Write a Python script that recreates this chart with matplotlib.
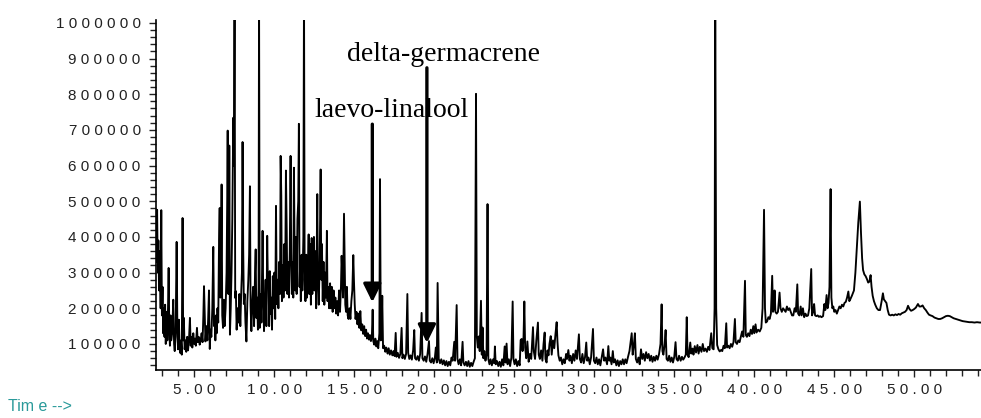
import matplotlib.pyplot as plt
from matplotlib.ticker import MultipleLocator, FuncFormatter

# chromatogram vertices: (time in min, abundance in thousands)
early = [
    (2.62, 330), (2.68, 476), (2.72, 300), (2.76, 390), (2.80, 250), (2.85, 360),
    (2.90, 200), (2.94, 475), (2.98, 180), (3.02, 260), (3.06, 130), (3.10, 200),
    (3.14, 120), (3.18, 210), (3.22, 100), (3.27, 190), (3.32, 110), (3.36, 200),
    (3.40, 313), (3.44, 140), (3.48, 95), (3.52, 180), (3.56, 110), (3.62, 130),
    (3.69, 224), (3.74, 100), (3.78, 80), (3.84, 140), (3.90, 386), (3.95, 120),
    (3.99, 85), (4.04, 168), (4.08, 95), (4.12, 75), (4.17, 110), (4.22, 70),
    (4.27, 453), (4.31, 110), (4.35, 173), (4.40, 85), (4.45, 110), (4.50, 78),
    (4.56, 120), (4.61, 82), (4.67, 110), (4.73, 173), (4.78, 95), (4.83, 120),
    (4.88, 90), (4.94, 130), (5.00, 100), (5.05, 115), (5.10, 95), (5.17, 145),
    (5.22, 105), (5.28, 120), (5.34, 98), (5.40, 110), (5.46, 130), (5.52, 105),
    (5.57, 180), (5.61, 262), (5.66, 173), (5.70, 107), (5.76, 150), (5.82, 110),
    (5.87, 170), (5.92, 250), (5.97, 86), (6.02, 140), (6.07, 120), (6.13, 200),
    (6.19, 372), (6.24, 150), (6.28, 176), (6.32, 110), (6.36, 180), (6.40, 130),
    (6.45, 200), (6.50, 160), (6.55, 390), (6.59, 481), (6.63, 230), (6.67, 300),
    (6.71, 547), (6.75, 180), (6.80, 145), (6.85, 224), (6.90, 150), (6.96, 200),
    (7.02, 300), (7.06, 500), (7.09, 698), (7.13, 240), (7.17, 350), (7.19, 656),
    (7.23, 126), (7.28, 200), (7.33, 300), (7.38, 450), (7.44, 734), (7.48, 600),
    (7.52, 1100), (7.56, 229), (7.60, 248), (7.65, 140), (7.70, 200), (7.76, 160),
    (7.82, 240), (7.88, 150), (7.94, 250), (7.98, 300), (8.02, 666), (8.06, 368),
    (8.10, 212), (8.15, 240), (8.20, 160), (8.26, 107), (8.32, 220), (8.38, 280),
    (8.43, 350), (8.48, 542), (8.52, 207), (8.57, 136), (8.62, 210), (8.68, 260),
    (8.74, 150), (8.80, 300), (8.84, 365), (8.88, 173), (8.93, 230), (8.98, 140),
    (9.02, 260), (9.05, 1100), (9.09, 145), (9.14, 240), (9.20, 160), (9.27, 417),
    (9.31, 248), (9.36, 136), (9.41, 200), (9.46, 280), (9.51, 150), (9.56, 403),
    (9.60, 276), (9.64, 285), (9.68, 150), (9.72, 304), (9.76, 184), (9.81, 230),
    (9.86, 140), (9.91, 290), (9.96, 200), (10.01, 300), (10.06, 170), (10.11, 487),
    (10.16, 212), (10.21, 280), (10.26, 200), (10.31, 330), (10.36, 240), (10.40, 627),
    (10.44, 515), (10.48, 220), (10.53, 320), (10.58, 230), (10.63, 380), (10.68, 250),
    (10.73, 586), (10.78, 417), (10.82, 240), (10.87, 330), (10.92, 230), (10.97, 357),
    (11.02, 627), (11.06, 357), (11.10, 240), (11.15, 330), (11.19, 230), (11.23, 594),
    (11.27, 380), (11.31, 250), (11.36, 400), (11.40, 240), (11.45, 450), (11.50, 500),
    (11.54, 717), (11.58, 260), (11.62, 330), (11.66, 220), (11.71, 350), (11.76, 250),
    (11.82, 400), (11.86, 1100), (11.90, 280), (11.95, 220), (12.00, 350), (12.05, 230),
    (12.10, 300), (12.15, 407), (12.19, 240), (12.24, 380), (12.29, 210), (12.34, 397),
    (12.38, 240), (12.43, 330), (12.48, 400), (12.52, 250), (12.57, 360), (12.62, 200),
    (12.69, 520), (12.73, 280), (12.78, 210), (12.84, 330), (12.90, 589), (12.94, 280),
    (12.98, 380), (13.03, 220), (13.08, 330), (13.13, 210), (13.18, 300), (13.23, 230),
    (13.29, 417), (13.33, 220), (13.38, 260), (13.43, 200), (13.49, 270), (13.54, 200),
    (13.60, 260), (13.65, 190), (13.71, 250), (13.76, 200), (13.82, 230), (13.87, 185),
    (13.93, 220), (13.99, 180), (14.05, 250), (14.11, 190), (14.17, 260), (14.21, 347),
    (14.25, 300), (14.30, 230), (14.36, 465), (14.40, 330), (14.44, 210), (14.49, 190),
    (14.54, 260), (14.59, 180), (14.64, 170), (14.70, 200), (14.76, 170), (14.82, 220),
    (14.88, 250), (14.94, 349), (14.98, 280), (15.03, 210), (15.08, 170), (15.14, 190),
]
middle = [
    (15.20, 155), (15.26, 185), (15.32, 145), (15.38, 192), (15.44, 138), (15.50, 155),
    (15.56, 128), (15.62, 150), (15.68, 122), (15.74, 140), (15.80, 115), (15.86, 130),
    (15.92, 112), (15.98, 125), (16.04, 108), (16.10, 120), (16.15, 196), (16.19, 108),
    (16.25, 98), (16.32, 115), (16.38, 93), (16.44, 108), (16.50, 88), (16.57, 130),
    (16.61, 562), (16.66, 110), (16.71, 130), (16.75, 235), (16.80, 88), (16.87, 95),
    (16.94, 78), (17.00, 90), (17.08, 73), (17.15, 88), (17.22, 70), (17.30, 82),
    (17.38, 68), (17.45, 80), (17.52, 66), (17.59, 131), (17.64, 64), (17.72, 75),
    (17.80, 61), (17.88, 72), (17.96, 145), (18.01, 60), (18.08, 70), (18.16, 58),
    (18.24, 72), (18.32, 240), (18.37, 75), (18.44, 58), (18.52, 68), (18.60, 56),
    (18.68, 82), (18.75, 139), (18.80, 60), (18.88, 56), (18.96, 66), (19.04, 53),
    (19.12, 72), (19.21, 187), (19.26, 60), (19.34, 53), (19.42, 65), (19.50, 50),
    (19.58, 72), (19.67, 108), (19.72, 53), (19.80, 48), (19.88, 60), (19.96, 46),
    (20.04, 62), (20.10, 90), (20.16, 48), (20.21, 271), (20.24, 181), (20.28, 58),
    (20.36, 46), (20.44, 57), (20.52, 43), (20.60, 54), (20.68, 40), (20.76, 52),
    (20.84, 38), (20.92, 50), (21.00, 40), (21.08, 62), (21.15, 53), (21.25, 106),
    (21.30, 53), (21.40, 209), (21.45, 58), (21.52, 43), (21.60, 57), (21.68, 40),
    (21.77, 106), (21.82, 48), (21.90, 40), (21.98, 50), (22.06, 38), (22.14, 52),
    (22.22, 36), (22.30, 47), (22.38, 38), (22.46, 50), (22.54, 60), (22.61, 801),
    (22.66, 121), (22.72, 90), (22.78, 121), (22.84, 80), (22.92, 221), (22.97, 70),
    (23.02, 146), (23.07, 60), (23.13, 80), (23.20, 53), (23.27, 70), (23.33, 492),
    (23.38, 58), (23.45, 43), (23.52, 57), (23.60, 40), (23.68, 57), (23.75, 46),
    (23.79, 93), (23.84, 43), (23.92, 52), (24.00, 38), (24.08, 50), (24.16, 36),
    (24.24, 57), (24.32, 40), (24.40, 93), (24.45, 48), (24.52, 101), (24.58, 43),
    (24.66, 57), (24.74, 38), (24.82, 62), (24.90, 219), (24.95, 58), (25.02, 43),
    (25.10, 57), (25.18, 38), (25.26, 52), (25.34, 40), (25.40, 111), (25.46, 114),
    (25.52, 80), (25.58, 120), (25.63, 219), (25.68, 90), (25.75, 60), (25.82, 107),
    (25.90, 50), (25.98, 72), (26.06, 58), (26.17, 147), (26.22, 80), (26.30, 58),
    (26.38, 110), (26.48, 160), (26.53, 70), (26.60, 58), (26.68, 82), (26.76, 53),
    (26.83, 100), (26.90, 132), (26.95, 58), (27.02, 48), (27.08, 82), (27.14, 68),
    (27.20, 100), (27.28, 122), (27.34, 70), (27.42, 110), (27.50, 88), (27.58, 130),
    (27.65, 161), (27.70, 107), (27.76, 68), (27.84, 53), (27.92, 62), (28.00, 43),
    (28.08, 57), (28.16, 46), (28.24, 72), (28.30, 58), (28.38, 83), (28.45, 53),
    (28.52, 67), (28.60, 46), (28.68, 72), (28.76, 53), (28.84, 82), (28.92, 58),
    (29.04, 127), (29.10, 58), (29.18, 48), (29.26, 72), (29.34, 46), (29.42, 62),
    (29.50, 104), (29.56, 53), (29.64, 62), (29.72, 43), (29.80, 62), (29.92, 142),
    (29.98, 53), (30.06, 46), (30.14, 62), (30.22, 43), (30.30, 57), (30.38, 40),
    (30.46, 62), (30.55, 85), (30.62, 53), (30.70, 62), (30.80, 43), (30.88, 94),
    (30.94, 53), (31.00, 62), (31.08, 43), (31.16, 80), (31.22, 48), (31.30, 57),
    (31.38, 40), (31.46, 54), (31.54, 38), (31.62, 52), (31.70, 43), (31.78, 57),
    (31.86, 43), (31.94, 57), (32.02, 46), (32.10, 62), (32.20, 80), (32.34, 130),
    (32.40, 70), (32.47, 95), (32.54, 130), (32.60, 58), (32.68, 48), (32.76, 62),
    (32.84, 43), (32.92, 85), (33.00, 58), (33.08, 72), (33.16, 53), (33.24, 77),
    (33.32, 60), (33.40, 72), (33.48, 53), (33.56, 67), (33.64, 50), (33.72, 64),
    (33.80, 53), (33.88, 67), (33.96, 56), (34.05, 72), (34.14, 100), (34.21, 211),
    (34.26, 80), (34.32, 70), (34.40, 100), (34.46, 139), (34.52, 58), (34.60, 53),
    (34.68, 67), (34.76, 50), (34.84, 62), (34.92, 48), (35.00, 64), (35.08, 105),
    (35.14, 58), (35.22, 53), (35.30, 67), (35.40, 53), (35.48, 64), (35.56, 56),
    (35.64, 62), (35.72, 70), (35.78, 175), (35.83, 70), (35.90, 63), (36.00, 104),
    (36.06, 73), (36.14, 87), (36.20, 70), (36.28, 94), (36.36, 76), (36.45, 97),
    (36.52, 73), (36.60, 92), (36.70, 78), (36.78, 100), (36.86, 80), (36.95, 87),
    (37.04, 78), (37.12, 92), (37.20, 83), (37.31, 130), (37.38, 88), (37.46, 85),
]
late = [
    (37.52, 200), (37.56, 1100), (37.62, 200), (37.68, 97), (37.76, 85), (37.84, 79),
    (37.92, 83), (38.00, 80), (38.08, 95), (38.16, 88), (38.25, 158), (38.30, 90),
    (38.38, 95), (38.46, 88), (38.54, 100), (38.62, 92), (38.70, 105), (38.79, 170),
    (38.84, 105), (38.92, 100), (39.00, 110), (39.08, 105), (39.16, 120), (39.24, 135),
    (39.32, 120), (39.42, 277), (39.47, 125), (39.54, 120), (39.62, 130), (39.70, 122),
    (39.78, 140), (39.86, 128), (39.94, 150), (40.00, 130), (40.08, 155), (40.14, 132),
    (40.24, 140), (40.34, 135), (40.44, 145), (40.52, 200), (40.61, 476), (40.67, 200),
    (40.72, 160), (40.80, 163), (40.88, 175), (40.96, 170), (41.04, 185), (41.12, 291),
    (41.17, 190), (41.22, 200), (41.27, 250), (41.32, 190), (41.40, 185), (41.48, 190),
    (41.58, 244), (41.64, 200), (41.72, 190), (41.80, 200), (41.88, 195), (41.96, 190),
    (42.04, 205), (42.12, 195), (42.20, 200), (42.28, 190), (42.36, 180), (42.44, 180),
    (42.52, 200), (42.60, 190), (42.69, 267), (42.74, 185), (42.82, 180), (42.90, 205),
    (42.96, 180), (43.04, 200), (43.12, 175), (43.20, 185), (43.28, 178), (43.36, 180),
    (43.44, 200), (43.56, 310), (43.61, 180), (43.68, 190), (43.74, 212), (43.80, 180),
    (43.88, 178), (43.96, 180), (44.04, 176), (44.12, 178), (44.20, 175), (44.30, 178),
    (44.38, 212), (44.44, 195), (44.52, 237), (44.58, 200), (44.64, 215), (44.70, 260),
    (44.77, 534), (44.82, 230), (44.88, 200), (44.94, 205), (45.00, 190), (45.08, 195),
    (45.16, 185), (45.24, 195), (45.32, 205), (45.40, 200), (45.48, 210), (45.56, 205),
    (45.64, 215), (45.72, 218), (45.80, 230), (45.88, 247), (45.94, 220), (46.00, 225),
    (46.10, 235), (46.23, 250), (46.32, 300), (46.40, 364), (46.50, 440), (46.60, 499),
    (46.67, 411), (46.74, 340), (46.80, 307), (46.88, 295), (46.96, 290), (47.04, 282),
    (47.12, 272), (47.20, 275), (47.27, 293), (47.33, 260), (47.40, 235), (47.48, 220),
    (47.56, 210), (47.66, 200), (47.76, 195), (47.86, 195), (47.96, 220), (48.04, 242),
    (48.10, 225), (48.18, 220), (48.26, 215), (48.34, 195), (48.42, 182), (48.52, 180),
    (48.62, 182), (48.72, 180), (48.82, 183), (48.92, 181), (49.02, 184), (49.12, 182),
    (49.22, 186), (49.32, 188), (49.42, 190), (49.52, 195), (49.61, 207), (49.70, 198),
    (49.80, 193), (49.90, 195), (50.00, 198), (50.10, 202), (50.23, 212), (50.32, 205),
    (50.42, 205), (50.52, 208), (50.62, 200), (50.72, 195), (50.82, 188), (50.92, 182),
    (51.02, 180), (51.14, 178), (51.26, 174), (51.38, 172), (51.50, 170), (51.62, 170),
    (51.74, 172), (51.86, 175), (51.98, 178), (52.10, 179), (52.22, 178), (52.34, 175),
    (52.46, 172), (52.60, 170), (52.74, 168), (52.88, 166), (53.02, 164), (53.16, 163),
    (53.30, 162), (53.44, 161), (53.60, 161), (53.76, 160), (53.92, 161), (54.10, 160),
    (54.20, 160),
]

# annotated compounds: label, label position, arrow start, arrow tip
labels = ["laevo-linalool", "delta-germacrene"]
label_pos = [(17.36, 736000), (20.60, 893000)]
arrow_from = [(16.13, 716000), (19.54, 874000)]
arrow_to = [(16.13, 217000), (19.54, 103000)]

trace = early + middle + late
t = [p[0] for p in trace]
ab = [p[1] * 1000 for p in trace]


def spaced(s):
    return " ".join(s)


fig = plt.figure(figsize=(9.81, 4.18), dpi=100)
ax = fig.add_axes([156 / 981, 1 - 370 / 418, 1 - 156 / 981, 350 / 418])

ax.plot(t, ab, color="black", lw=1.35)

ax.set_xlim(2.61, 54.17)
ax.set_ylim(27000, 1008000)

for s in ["top", "right"]:
    ax.spines[s].set_visible(False)
for s in ["left", "bottom"]:
    ax.spines[s].set_linewidth(1.2)

ax.xaxis.set_major_locator(MultipleLocator(5))
ax.xaxis.set_minor_locator(MultipleLocator(1))
ax.yaxis.set_major_locator(MultipleLocator(100000))
ax.yaxis.set_minor_locator(MultipleLocator(20000))
ax.xaxis.set_major_formatter(FuncFormatter(lambda v, p: spaced("%.2f" % v)))
ax.yaxis.set_major_formatter(FuncFormatter(lambda v, p: spaced("%d" % v)))

ax.tick_params(axis="both", which="major", length=5, width=1, labelsize=11,
               colors="#222222")
ax.tick_params(axis="both", which="minor", length=4, width=1, colors="#222222")
ax.tick_params(axis="y", pad=6)
ax.tick_params(axis="x", pad=4)
for lab in ax.get_xticklabels() + ax.get_yticklabels():
    lab.set_family("Liberation Sans")

for name, pos, a, b in zip(labels, label_pos, arrow_from, arrow_to):
    ax.annotate("", xy=b, xytext=a,
                arrowprops=dict(arrowstyle="-|>,head_length=0.55,head_width=0.27",
                                lw=2.4, color="black", mutation_scale=20,
                                shrinkA=0, shrinkB=0))
    ax.text(pos[0], pos[1], name, ha="center", va="baseline",
            family="Liberation Serif", fontsize=20)

fig.text(8 / 981, 1 - 411 / 418, "Tim e -->", color="#2a9a9a",
         family="Liberation Sans", fontsize=11.5)

fig.savefig("out.png", dpi=100)
